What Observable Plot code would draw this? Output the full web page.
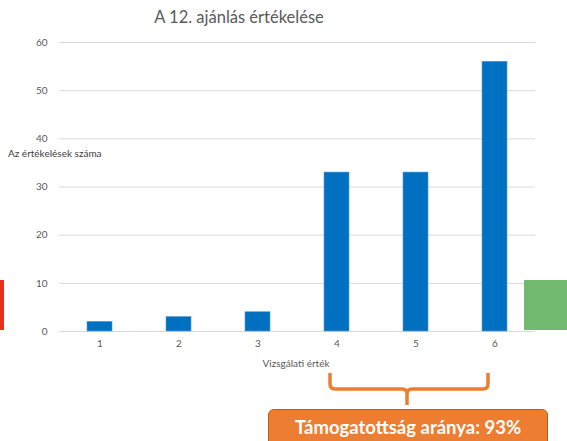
<!DOCTYPE html>
<html><head><meta charset="utf-8">
<script src="https://cdn.jsdelivr.net/npm/d3@7"></script>
<script src="https://cdn.jsdelivr.net/npm/@observablehq/plot@0.6"></script>
<style>
html,body{margin:0;padding:0;background:#fff;}
#wrap{position:relative;width:567px;height:441px;overflow:hidden;font-family:Lato,"Open Sans",sans-serif;}
#wrap svg{display:block;}
.abs{position:absolute;}
</style>
</head><body>
<div id="wrap"></div>
<script>
const categories = ["1","2","3","4","5","6"];
const counts = [2, 3, 4, 33, 33, 56];
const yTicks = [0, 10, 20, 30, 40, 50, 60];
const title = "A 12. ajánlás értékelése";
const yLabel = "Az értékelések száma";
const xLabel = "Vizsgálati érték";
const callout = "Támogatottság aránya: 93%";

const data = categories.map((c, i) => ({cat: c, n: counts[i]}));

const chart = Plot.plot({
  width: 567, height: 441,
  marginTop: 42, marginBottom: 110, marginLeft: 59, marginRight: 32,
  style: {fontFamily: "Lato, 'Open Sans', sans-serif", fontSize: "10px", color: "#595959", background: "transparent"},
  x: {domain: categories, paddingInner: 0.68, paddingOuter: 0.34, label: null, tickSize: 0, tickPadding: 8},
  y: {domain: [0, 60], ticks: yTicks, label: null, tickSize: 0, tickPadding: 12},
  marks: [
    Plot.gridY(yTicks, {stroke: "#d9d9d9", strokeOpacity: 1, strokeWidth: 1}),
    Plot.barY(data, {x: "cat", y: "n", fill: "#0070c0", stroke: "#5b9bd5", strokeWidth: 0.6}),
    Plot.axisX({tickSize: 0, tickPadding: 8, fill: "#595959"}),
    Plot.axisY(yTicks, {tickSize: 0, tickPadding: 12, fill: "#595959"})
  ]
});
const wrap = document.getElementById("wrap");
wrap.appendChild(chart);

function div(text, css) {
  const d = document.createElement("div");
  d.className = "abs";
  d.textContent = text;
  d.setAttribute("style", css);
  wrap.appendChild(d);
  return d;
}
// side decorations (fragments of neighbouring slide objects)
div("", "left:0;top:280px;width:4px;height:50px;background:#e8311a;");
div("", "left:524px;top:280px;width:43px;height:50px;background:#70b96f;");

div(title, "left:0;width:478px;text-align:center;top:7px;font-size:16.5px;color:#595959;");
div(yLabel, "left:8px;top:147px;font-size:10px;color:#404040;");
div(xLabel, "left:0;width:592px;text-align:center;top:357px;font-size:10px;color:#595959;");

// brace
const ns = "http://www.w3.org/2000/svg";
const s = document.createElementNS(ns, "svg");
s.setAttribute("width", 567); s.setAttribute("height", 441);
s.setAttribute("style", "position:absolute;left:0;top:0;");
const p = document.createElementNS(ns, "path");
p.setAttribute("d", "M330,373 V384 Q330,389 335,389 H402 Q407,389 407,394 V405 M407,394 Q407,389 412,389 H483 Q488,389 488,384 V373");
p.setAttribute("fill", "none"); p.setAttribute("stroke", "#ed7d31"); p.setAttribute("stroke-width", 3.5);
s.appendChild(p);
wrap.appendChild(s);

div(callout, "left:268px;top:409px;width:280px;height:40px;box-sizing:border-box;background:#ed7d31;border:1.5px solid #c55a11;border-radius:6px;color:#fff;font-weight:bold;font-size:18.5px;text-align:center;padding-top:6px;");
</script>
</body></html>
